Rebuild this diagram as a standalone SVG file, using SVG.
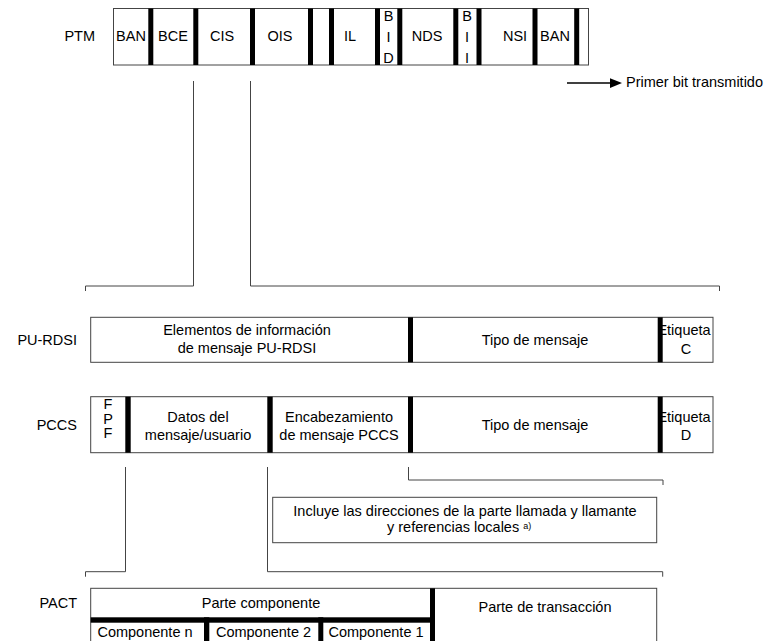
<svg xmlns="http://www.w3.org/2000/svg" width="770" height="641" viewBox="0 0 770 641">
<style>
.box{fill:#fff;stroke:#444;stroke-width:1}
.bar{fill:#000}
.ln{fill:none;stroke:#444;stroke-width:1}
text{font-family:"Liberation Sans",Arial,Helvetica,sans-serif;font-size:14.5px;fill:#000}
.m{text-anchor:middle}
.e{text-anchor:end}
.sup{font-size:9px}
</style>
<rect width="770" height="641" fill="#fff"/>

<g id="ptm">
<text class="e" x="95" y="41">PTM</text>
<rect class="box" x="113.5" y="8.5" width="475" height="56.5"/>
<text class="m" x="131" y="41">BAN</text>
<text class="m" x="173" y="41">BCE</text>
<text class="m" x="222" y="41">CIS</text>
<text class="m" x="280" y="41">OIS</text>
<text class="m" x="350" y="41">IL</text>
<text class="m" x="388.5" y="21">B</text>
<text class="m" x="388.5" y="42">I</text>
<text class="m" x="388.5" y="63">D</text>
<text class="m" x="427" y="41">NDS</text>
<text class="m" x="467" y="21">B</text>
<text class="m" x="467" y="42">I</text>
<text class="m" x="467" y="63">I</text>
<text class="m" x="515" y="41">NSI</text>
<text class="m" x="555" y="41">BAN</text>
<rect class="bar" x="148.3" y="8.5" width="5" height="56.5"/>
<rect class="bar" x="193.3" y="8.5" width="5" height="56.5"/>
<rect class="bar" x="250" y="8.5" width="5" height="56.5"/>
<rect class="bar" x="308" y="8.5" width="5" height="56.5"/>
<rect class="bar" x="329" y="8.5" width="5" height="56.5"/>
<rect class="bar" x="375" y="8.5" width="5" height="56.5"/>
<rect class="bar" x="397.3" y="8.5" width="5" height="56.5"/>
<rect class="bar" x="453.3" y="8.5" width="5" height="56.5"/>
<rect class="bar" x="476.5" y="8.5" width="5" height="56.5"/>
<rect class="bar" x="532.5" y="8.5" width="5" height="56.5"/>
<rect class="bar" x="574.2" y="8.5" width="5" height="56.5"/>
</g>

<g id="legend">
<line x1="567" y1="83" x2="611" y2="83" stroke="#000" stroke-width="1.5"/>
<polygon points="610,78.3 622,83 610,88" fill="#000"/>
<text x="626" y="87">Primer bit transmitido</text>
</g>

<g id="pu-rdsi">
<text class="e" x="77" y="345">PU-RDSI</text>
<rect class="box" x="90.7" y="317.3" width="622.3" height="45"/>
<text class="m" x="247" y="335">Elementos de información</text>
<text class="m" x="247" y="353">de mensaje PU-RDSI</text>
<text class="m" x="535" y="345">Tipo de mensaje</text>
<text class="m" x="684" y="335">Etiqueta</text>
<text class="m" x="686" y="354">C</text>
<rect class="bar" x="408" y="317.3" width="5" height="45"/>
<rect class="bar" x="657.7" y="317.3" width="5" height="45"/>
</g>

<g id="pccs">
<text class="e" x="77" y="430">PCCS</text>
<rect class="box" x="90.7" y="396.7" width="622.3" height="56"/>
<text class="m" x="108" y="409">F</text>
<text class="m" x="108" y="423.5">P</text>
<text class="m" x="108" y="438">F</text>
<text class="m" x="198" y="422">Datos del</text>
<text class="m" x="198" y="440">mensaje/usuario</text>
<text class="m" x="339" y="422">Encabezamiento</text>
<text class="m" x="339" y="440">de mensaje PCCS</text>
<text class="m" x="535" y="430">Tipo de mensaje</text>
<text class="m" x="684" y="422">Etiqueta</text>
<text class="m" x="686" y="440">D</text>
<rect class="bar" x="125.3" y="396.7" width="5.4" height="56"/>
<rect class="bar" x="267.3" y="396.7" width="5.4" height="56"/>
<rect class="bar" x="408" y="396.7" width="5" height="56"/>
<rect class="bar" x="657.7" y="396.7" width="5" height="56"/>
</g>

<g id="note">
<rect class="box" x="272.7" y="497.3" width="384" height="45.4"/>
<text class="m" x="465" y="516">Incluye las direcciones de la parte llamada y llamante</text>
<text x="387" y="532">y referencias locales <tspan class="sup" dy="-3">a)</tspan></text>
</g>

<g id="pact">
<text class="e" x="77" y="608">PACT</text>
<rect class="box" x="90.7" y="588.3" width="566" height="60"/>
<text class="m" x="261" y="608.3">Parte componente</text>
<text class="m" x="545" y="611.5">Parte de transacción</text>
<text class="m" x="145" y="636.5">Componente n</text>
<text class="m" x="263.5" y="636.5">Componente 2</text>
<text class="m" x="376" y="636.5">Componente 1</text>
<rect class="bar" x="90.7" y="617.3" width="344" height="5.4"/>
<rect class="bar" x="430" y="588.3" width="5" height="60"/>
<rect class="bar" x="204" y="617.3" width="5.3" height="30"/>
<rect class="bar" x="318.3" y="617.3" width="5" height="30"/>
</g>

<g id="connectors">
<path class="ln" d="M193.5,81 V286 H85.5 V291"/>
<path class="ln" d="M250.5,81 V286 H719.5 V291"/>
<path class="ln" d="M125.5,467 V571.7 H85.5 V576.7"/>
<path class="ln" d="M267.5,467 V571.7 H662.7 V576.7"/>
<path class="ln" d="M408.5,467 V480 H663 V485"/>
</g>
</svg>
